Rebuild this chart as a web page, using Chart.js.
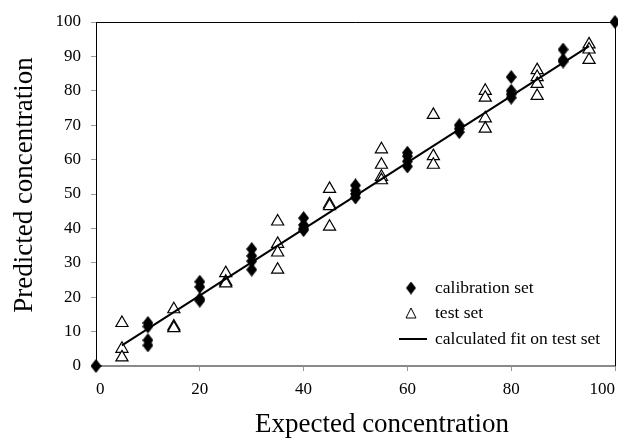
<!DOCTYPE html>
<html>
<head>
<meta charset="utf-8">
<script src="https://cdn.jsdelivr.net/npm/chart.js@4/dist/chart.umd.min.js"></script>
<style>
  html, body { margin: 0; padding: 0; background: #fff; }
  #wrap { width: 618px; height: 443px; }
</style>
</head>
<body>
<div id="wrap"><canvas id="fit-chart"></canvas></div>
<script>
// calibration set (filled diamonds)
const calibrationX = [0, 10, 10, 10, 10, 20, 20, 20, 20, 30, 30, 30, 30, 40, 40, 40, 40,
  50, 50, 50, 50, 60, 60, 60, 60, 70, 70, 70, 80, 80, 80, 80, 90, 90, 90, 100];
const calibrationY = [0, 12.5, 11.5, 7.5, 6, 24.5, 23, 19.5, 19, 34, 32, 30.5, 28, 43, 41, 40, 39.5,
  52.5, 51, 50, 49, 62, 61, 59.5, 58, 70, 69, 68, 84, 80, 79, 78, 92, 89, 88.5, 100];

// test set (open triangles)
const testX = [5, 5, 5, 15, 15, 15, 25, 25, 25, 35, 35, 35, 35, 45, 45, 45, 45,
  55, 55, 55, 55, 65, 65, 65, 75, 75, 75, 75, 85, 85, 85, 85, 95, 95, 95];
const testY = [12.5, 5, 2.5, 16.5, 11.5, 11, 27, 24.5, 24, 42, 35.5, 33, 28, 51.5, 47, 46.5, 40.5,
  63, 58.5, 55, 54, 73, 61, 58.5, 80, 78, 72, 69, 86, 84, 82, 78.5, 93.5, 92, 89];

// calculated fit on test set
const fitX = [5, 95];
const fitY = [6, 93];

const xTickValues = [0, 20, 40, 60, 80, 100];
const seriesNames = ['calibration set', 'test set', 'calculated fit on test set'];
const xTitle = 'Expected concentration';
const yTitle = 'Predicted concentration';

const SERIF = '"Liberation Serif", "Times New Roman", serif';

function pairs(xs, ys) { return xs.map((x, i) => ({ x: x, y: ys[i] })); }

function diamond(w, h) {
  const c = document.createElement('canvas');
  c.width = w; c.height = h;
  const g = c.getContext('2d');
  g.fillStyle = '#000';
  g.beginPath();
  g.moveTo(w / 2, 0); g.lineTo(w, h / 2); g.lineTo(w / 2, h); g.lineTo(0, h / 2);
  g.closePath(); g.fill();
  return c;
}

const diamondImg = diamond(11, 14);
const legendDiamond = diamond(10, 13);

// top and right frame lines
const framePlugin = {
  id: 'frame',
  beforeDatasetsDraw(chart) {
    const { ctx, chartArea: a } = chart;
    ctx.save();
    ctx.strokeStyle = '#000';
    ctx.lineWidth = 1;
    ctx.beginPath();
    ctx.moveTo(a.left, a.top + 0.5);
    ctx.lineTo(a.right + 0.5, a.top + 0.5);
    ctx.lineTo(a.right + 0.5, a.bottom);
    ctx.stroke();
    ctx.restore();
  }
};

// legend inside plot + axis titles
const textPlugin = {
  id: 'texts',
  afterDraw(chart) {
    const ctx = chart.ctx;
    ctx.save();
    ctx.fillStyle = '#000';
    ctx.font = '17.5px ' + SERIF;
    ctx.textAlign = 'left';
    ctx.textBaseline = 'middle';
    const lx = 411, tx = 435;
    const rows = [288, 313, 339];
    ctx.drawImage(legendDiamond, lx - 5, rows[0] - 6.5);
    ctx.fillText(seriesNames[0], tx, rows[0]);
    // small open triangle
    ctx.strokeStyle = '#000';
    ctx.lineWidth = 1;
    ctx.beginPath();
    ctx.moveTo(lx, rows[1] - 5); ctx.lineTo(lx + 5, rows[1] + 5); ctx.lineTo(lx - 5, rows[1] + 5);
    ctx.closePath(); ctx.stroke();
    ctx.fillText(seriesNames[1], tx, rows[1]);
    ctx.lineWidth = 2;
    ctx.beginPath();
    ctx.moveTo(399, rows[2]); ctx.lineTo(427, rows[2]);
    ctx.stroke();
    ctx.fillText(seriesNames[2], tx, rows[2]);

    ctx.font = '27px ' + SERIF;
    ctx.textAlign = 'center';
    ctx.textBaseline = 'alphabetic';
    ctx.fillText(xTitle, 382, 432);
    ctx.translate(32, 185);
    ctx.rotate(-Math.PI / 2);
    ctx.fillText(yTitle, 0, 0);
    ctx.restore();
  }
};

const config = {
  type: 'scatter',
  data: {
    datasets: [
      {
        label: seriesNames[0],
        data: pairs(calibrationX, calibrationY),
        pointStyle: diamondImg,
        clip: false,
        order: 0
      },
      {
        label: seriesNames[1],
        data: pairs(testX, testY),
        pointStyle: 'triangle',
        pointRadius: 7,
        borderWidth: 1.2,
        borderColor: '#000',
        backgroundColor: '#fff',
        clip: false,
        order: 2
      },
      {
        type: 'line',
        label: seriesNames[2],
        data: pairs(fitX, fitY),
        borderColor: '#000',
        borderWidth: 2,
        pointRadius: 0,
        fill: false,
        order: 1
      }
    ]
  },
  options: {
    responsive: true,
    maintainAspectRatio: false,
    animation: false,
    events: [],
    layout: { autoPadding: false, padding: { top: 22, right: 3, left: 0, bottom: 0 } },
    plugins: { legend: { display: false }, tooltip: { enabled: false } },
    scales: {
      x: {
        type: 'linear',
        min: 0, max: 100,
        afterFit(s) { s.height = 77; s.paddingLeft = 0; s.paddingRight = 0; },
        afterBuildTicks(s) { s.ticks = xTickValues.map(v => ({ value: v })); },
        border: { color: '#8a8a8a', width: 2 },
        grid: { drawOnChartArea: false, color: '#9a9a9a', tickLength: 5, tickWidth: 1 },
        ticks: { color: '#000', padding: 8, maxRotation: 0, align: 'inner', font: { family: SERIF, size: 17 } }
      },
      y: {
        type: 'linear',
        min: 0, max: 100,
        afterFit(s) { s.width = 96; s.paddingTop = 0; s.paddingBottom = 0; },
        border: { color: '#000', width: 1 },
        grid: { drawOnChartArea: false, color: '#9a9a9a', tickLength: 5, tickWidth: 1 },
        ticks: { stepSize: 10, color: '#000', padding: 10, font: { family: SERIF, size: 17 } }
      }
    }
  },
  plugins: [framePlugin, textPlugin]
};

new Chart(document.getElementById('fit-chart').getContext('2d'), config);
</script>
</body>
</html>
